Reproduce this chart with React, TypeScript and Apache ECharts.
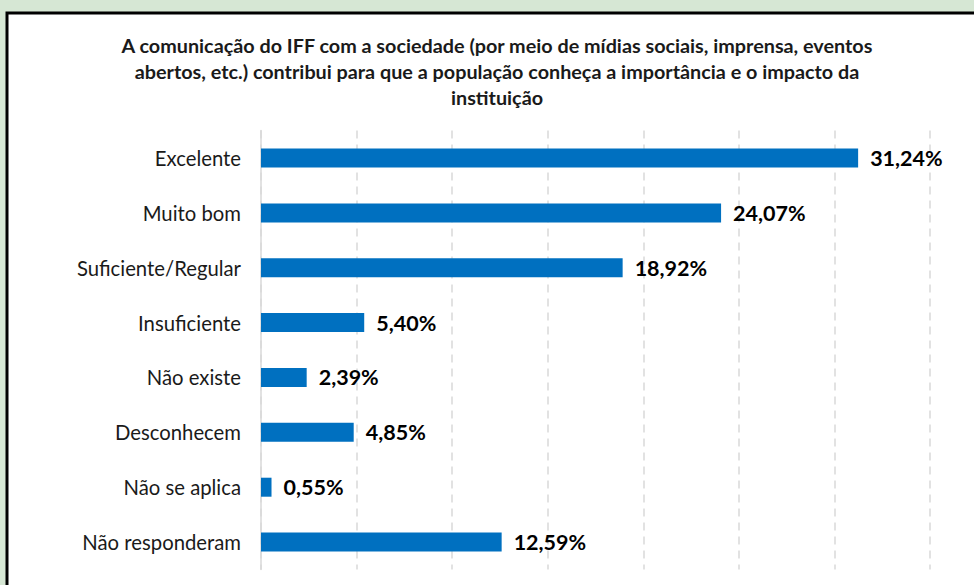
import React, { useEffect, useRef } from "react";
import * as echarts from "echarts";

const categories = [
  "Excelente",
  "Muito bom",
  "Suficiente/Regular",
  "Insuficiente",
  "Não existe",
  "Desconhecem",
  "Não se aplica",
  "Não responderam",
];
const values = [31.24, 24.07, 18.92, 5.4, 2.39, 4.85, 0.55, 12.59];
const titleLines = [
  "A comunicação do IFF com a sociedade (por meio de mídias sociais, imprensa, eventos",
  "abertos, etc.) contribui para que a população conheça a importância e o impacto da",
  "instituição",
];

const FONT = "Lato, 'Open Sans', sans-serif";

export default function App() {
  const ref = useRef<HTMLDivElement>(null);
  useEffect(() => {
    document.body.style.margin = "0";
    const chart = echarts.init(ref.current!, undefined, { renderer: "svg" });
    chart.setOption({
      animation: false,
      backgroundColor: "#d6e7d4",
      graphic: [
        {
          type: "rect",
          z: -10,
          shape: { x: 7, y: 13, width: 1000, height: 620 },
          style: { fill: "#ffffff", stroke: "#000000", lineWidth: 3 },
        },
        {
          type: "text",
          x: 497,
          y: 32,
          style: {
            text: titleLines.join("\n"),
            textAlign: "center",
            fontFamily: FONT,
            fontWeight: "bold",
            fontSize: 19.8,
            lineHeight: 26,
            fill: "#1a1a1a",
          },
        },
      ],
      grid: { left: 261, right: 44, top: 130.6, bottom: 15.5 },
      xAxis: {
        type: "value",
        min: 0,
        max: 35,
        interval: 5,
        axisLabel: { show: false },
        axisLine: { show: false },
        axisTick: { show: false },
        splitLine: {
          show: true,
          lineStyle: { color: "#d9d9d9", type: [8, 6], width: 1.5 },
        },
      },
      yAxis: {
        type: "category",
        inverse: true,
        data: categories,
        axisTick: { show: false },
        axisLine: { show: true, lineStyle: { color: "#d9d9d9", width: 1.5 } },
        axisLabel: {
          margin: 20,
          fontFamily: FONT,
          fontSize: 20.3,
          color: "#1a1a1a",
        },
      },
      series: [
        {
          type: "bar",
          data: values,
          barWidth: 19,
          itemStyle: { color: "#0070c0" },
          label: {
            show: true,
            position: "right",
            distance: 12,
            fontFamily: FONT,
            fontWeight: "bold",
            fontSize: 21.5,
            color: "#000000",
            formatter: (p: any) => p.value.toFixed(2).replace(".", ",") + "%",
          },
        },
      ],
    });
    return () => chart.dispose();
  }, []);
  return <div ref={ref} style={{ width: 974, height: 585 }} />;
}
